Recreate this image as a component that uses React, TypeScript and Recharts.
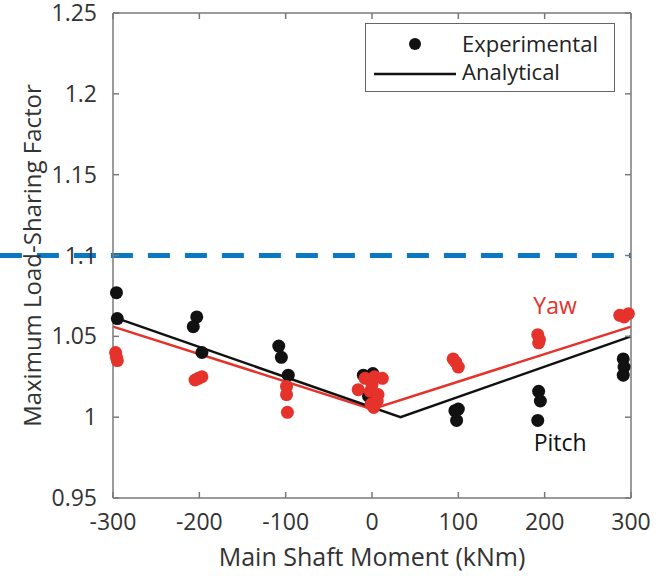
import React from 'react'
import {
    ComposedChart,
    Scatter,
    Line,
    XAxis,
    YAxis,
    ReferenceLine,
    ReferenceDot,
    Legend
} from 'recharts'

const pitchPoints = [
    { x: -296, y: 1.077 }, { x: -295, y: 1.061 },
    { x: -203, y: 1.062 }, { x: -207, y: 1.056 }, { x: -197, y: 1.040 },
    { x: -108, y: 1.044 }, { x: -105, y: 1.037 }, { x: -97, y: 1.026 },
    { x: -10, y: 1.026 }, { x: 1, y: 1.027 }, { x: -4, y: 1.013 },
    { x: 96, y: 1.004 }, { x: 100, y: 1.005 }, { x: 98, y: 0.998 },
    { x: 193, y: 1.016 }, { x: 195, y: 1.010 }, { x: 192, y: 0.998 },
    { x: 291, y: 1.036 }, { x: 292, y: 1.031 }, { x: 291, y: 1.026 }
]

const yawPoints = [
    { x: -297, y: 1.040 }, { x: -296, y: 1.037 }, { x: -295, y: 1.035 },
    { x: -205, y: 1.023 }, { x: -201, y: 1.024 }, { x: -197, y: 1.025 },
    { x: -99, y: 1.019 }, { x: -99, y: 1.014 }, { x: -98, y: 1.003 },
    { x: -16, y: 1.017 }, { x: -8, y: 1.024 }, { x: 3, y: 1.025 },
    { x: 12, y: 1.024 }, { x: -2, y: 1.016 }, { x: 7, y: 1.014 },
    { x: -1, y: 1.008 }, { x: 6, y: 1.010 }, { x: 0, y: 1.020 }, { x: 2, y: 1.006 },
    { x: 94, y: 1.036 }, { x: 97, y: 1.034 }, { x: 100, y: 1.031 },
    { x: 192, y: 1.051 }, { x: 194, y: 1.048 }, { x: 193, y: 1.046 },
    { x: 287, y: 1.063 }, { x: 292, y: 1.062 }, { x: 297, y: 1.064 }
]

// analytical curves
const pitchModel = [
    { x: -300, y: 1.062 },
    { x: 33, y: 1.0 },
    { x: 300, y: 1.050 }
]

const yawModel = [
    { x: -300, y: 1.056 },
    { x: 0, y: 1.005 },
    { x: 300, y: 1.056 }
]

const xTicks = [-300, -200, -100, 0, 100, 200, 300]
const yTicks = [0.95, 1, 1.05, 1.1, 1.15, 1.2, 1.25]
const limitValue = 1.1

const FONT = '"Open Sans", sans-serif'
const AXIS = '#7a7a7a'
const TEXT = '#333333'
const RED = '#e5322b'
const BLACK = '#111111'
const GAP = 16
const TICK = 6

const dot = (color: string) => (props: any) => (
    <circle cx={props.cx} cy={props.cy} r={6.5} fill={color} />
)

// MATLAB style ticks point into the plot box
const BottomTick = ({ x, y, payload }: any) => (
    <g>
        <line x1={x} y1={y - GAP} x2={x} y2={y - GAP - TICK} stroke={AXIS} strokeWidth={1.5} />
        <text x={x} y={y} dy="0.71em" textAnchor="middle" fill={TEXT} fontSize={23} fontFamily={FONT}>
            {payload.value}
        </text>
    </g>
)

const LeftTick = ({ x, y, payload }: any) => (
    <g>
        <line x1={x + GAP} y1={y} x2={x + GAP + TICK} y2={y} stroke={AXIS} strokeWidth={1.5} />
        <text x={x} y={y} dy="0.355em" textAnchor="end" fill={TEXT} fontSize={23} fontFamily={FONT}>
            {payload.value}
        </text>
    </g>
)

const TopTick = ({ x, y }: any) => (
    <line x1={x} y1={y} x2={x} y2={y + TICK} stroke={AXIS} strokeWidth={1.5} />
)

const RightTick = ({ x, y }: any) => (
    <line x1={x} y1={y} x2={x - TICK} y2={y} stroke={AXIS} strokeWidth={1.5} />
)

function LegendBox() {
    return (
        <div
            style={{
                width: 250,
                height: 69,
                border: '1.5px solid #666',
                background: '#fff',
                fontFamily: FONT,
                fontSize: 22,
                color: '#222',
                boxSizing: 'border-box',
                position: 'relative'
            }}
        >
            <svg width={100} height={66} style={{ position: 'absolute', left: 0, top: 0 }}>
                <circle cx={49} cy={20} r={6} fill={BLACK} />
                <line x1={8} y1={50} x2={90} y2={50} stroke={BLACK} strokeWidth={2.5} />
            </svg>
            <div style={{ position: 'absolute', left: 96, top: 5, lineHeight: '28px' }}>
                Experimental
                <br />
                Analytical
            </div>
        </div>
    )
}

export default function App() {
    return (
        <div style={{ position: 'absolute', left: 0, top: 0, width: 658, height: 576, background: '#fff' }}>
            <ComposedChart
                width={658}
                height={576}
                margin={{ top: 12, right: 26, bottom: 0, left: 0 }}
            >
                <XAxis
                    type="number"
                    dataKey="x"
                    domain={[-300, 300]}
                    ticks={xTicks}
                    interval={0}
                    height={78}
                    stroke={AXIS}
                    strokeWidth={1.5}
                    tickLine={false}
                    tickSize={0}
                    tickMargin={GAP}
                    tick={BottomTick}
                    label={{
                        value: 'Main Shaft Moment (kNm)',
                        position: 'insideBottom',
                        offset: 10,
                        fill: TEXT,
                        fontSize: 25,
                        fontFamily: FONT
                    }}
                />
                <XAxis
                    xAxisId="top"
                    orientation="top"
                    type="number"
                    dataKey="x"
                    domain={[-300, 300]}
                    ticks={xTicks}
                    interval={0}
                    height={1}
                    stroke={AXIS}
                    strokeWidth={1.5}
                    tickLine={false}
                    tickSize={0}
                    tickMargin={0}
                    tick={TopTick}
                />
                <YAxis
                    type="number"
                    domain={[0.95, 1.25]}
                    ticks={yTicks}
                    interval={0}
                    width={113}
                    stroke={AXIS}
                    strokeWidth={1.5}
                    tickLine={false}
                    tickSize={0}
                    tickMargin={GAP}
                    tick={LeftTick}
                    label={{
                        content: ({ viewBox }: any) => {
                            const cx = viewBox.x + 31
                            const cy = viewBox.y + viewBox.height / 2
                            return (
                                <text
                                    x={cx}
                                    y={cy}
                                    transform={`rotate(-90 ${cx} ${cy})`}
                                    textAnchor="middle"
                                    dominantBaseline="central"
                                    fill={TEXT}
                                    fontSize={24}
                                    fontFamily={FONT}
                                >
                                    Maximum Load-Sharing Factor
                                </text>
                            )
                        }
                    }}
                />
                <YAxis
                    yAxisId="right"
                    orientation="right"
                    type="number"
                    domain={[0.95, 1.25]}
                    ticks={yTicks}
                    interval={0}
                    width={1}
                    stroke={AXIS}
                    strokeWidth={1.5}
                    tickLine={false}
                    tickSize={0}
                    tickMargin={0}
                    tick={RightTick}
                />

                <Line
                    data={yawModel}
                    dataKey="y"
                    xAxisId="top"
                    yAxisId="right"
                    type="linear"
                    stroke={RED}
                    strokeWidth={2.5}
                    dot={false}
                    activeDot={false}
                    isAnimationActive={false}
                />
                <Line
                    data={pitchModel}
                    dataKey="y"
                    xAxisId="top"
                    yAxisId="right"
                    type="linear"
                    stroke={BLACK}
                    strokeWidth={2.5}
                    dot={false}
                    activeDot={false}
                    isAnimationActive={false}
                />
                <Scatter data={pitchPoints} dataKey="y" shape={dot(BLACK)} isAnimationActive={false} />
                <Scatter data={yawPoints} dataKey="y" shape={dot(RED)} isAnimationActive={false} />

                <ReferenceLine
                    segment={[{ x: -431, y: limitValue }, { x: 300, y: limitValue }]}
                    stroke="#0a78c2"
                    strokeWidth={5}
                    strokeDasharray="22 15"
                    ifOverflow="visible"
                />

                <ReferenceDot
                    x={212}
                    y={1.069}
                    r={0}
                    stroke="none"
                    fill="none"
                    label={{ value: 'Yaw', position: 'center', fill: RED, fontSize: 23, fontFamily: FONT }}
                />
                <ReferenceDot
                    x={218}
                    y={0.984}
                    r={0}
                    stroke="none"
                    fill="none"
                    label={{ value: 'Pitch', position: 'center', fill: BLACK, fontSize: 23, fontFamily: FONT }}
                />

                <Legend
                    layout="vertical"
                    align="center"
                    verticalAlign="middle"
                    wrapperStyle={{ top: 23, left: 365, width: 250 }}
                    content={() => <LegendBox />}
                />
            </ComposedChart>
        </div>
    )
}
